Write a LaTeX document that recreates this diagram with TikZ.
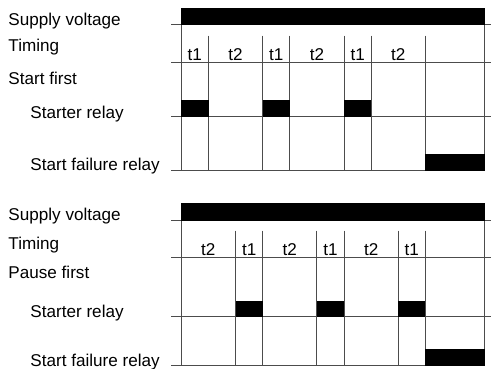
\documentclass[tikz,border=0pt]{standalone}
\usepackage{fontspec}
\setmainfont{Liberation Sans}
\begin{document}
\begin{tikzpicture}[x=1pt,y=-1pt,
  lbl/.style={anchor=base west, inner sep=0pt, font=\fontsize{17.1}{20}\selectfont},
  tlbl/.style={anchor=base, inner sep=0pt, font=\fontsize{17.1}{20}\selectfont},
  gridline/.style={draw=black!70, line width=1pt},
  blk/.style={fill=black}]
\useasboundingbox (0,0) rectangle (491,369);

% ---------- top chart ----------
\node[lbl] (sv1) at (8.3,25.6) {Supply voltage};
\node[lbl] (tm1) at (8.3,52) {Timing};
\node[lbl] (sf1) at (8.3,85) {Start first};
\node[lbl] (sr1) at (30.3,118.3) {Starter relay};
\node[lbl] (fr1) at (30.3,171) {Start failure relay};

\draw[gridline] (171,24.3) -- (491,24.3);
\draw[gridline] (171,62.3) -- (491,62.3);
\draw[gridline] (171,116.7) -- (491,116.7);
\draw[gridline] (171,170.7) -- (484.5,170.7);
\draw[gridline] (181,24.3) -- (181,170.7);
\draw[gridline] (484.5,24.3) -- (484.5,170.7);
\foreach \x in {208.5,262.7,289.9,344.1,371.3,425.3}
  \draw[gridline] (\x,35.7) -- (\x,170.7);

\fill[blk] (181,8.3) rectangle (484.5,25);
\fill[blk] (181,100) rectangle (208.5,116.7);
\fill[blk] (262.7,100) rectangle (289.9,116.7);
\fill[blk] (344.1,100) rectangle (371.3,116.7);
\fill[blk] (425.3,154.3) rectangle (484.5,170.7);

\node[tlbl] (a1) at (194.75,61) {t1};
\node[tlbl] (a2) at (235.6,61) {t2};
\node[tlbl] (a3) at (276.3,61) {t1};
\node[tlbl] (a4) at (317,61) {t2};
\node[tlbl] (a5) at (357.7,61) {t1};
\node[tlbl] (a6) at (398.3,61) {t2};

% ---------- bottom chart ----------
\node[lbl] (sv2) at (8.3,220.8) {Supply voltage};
\node[lbl] (tm2) at (8.3,249) {Timing};
\node[lbl] (pf2) at (8.3,279) {Pause first};
\node[lbl] (sr2) at (30.3,317.3) {Starter relay};
\node[lbl] (fr2) at (30.3,366) {Start failure relay};

\draw[gridline] (171,220.3) -- (491,220.3);
\draw[gridline] (171,257.7) -- (491,257.7);
\draw[gridline] (171,316.7) -- (491,316.7);
\draw[gridline] (171,365.7) -- (484.5,365.7);
\draw[gridline] (181,220.3) -- (181,365.7);
\draw[gridline] (484.5,220.3) -- (484.5,365.7);
\foreach \x in {235.6,262.7,316.9,344.1,398.3,425.3}
  \draw[gridline] (\x,230.7) -- (\x,365.7);

\fill[blk] (181,203.3) rectangle (484.5,221);
\fill[blk] (235.6,300.7) rectangle (262.7,316.7);
\fill[blk] (316.9,300.7) rectangle (344.1,316.7);
\fill[blk] (398.3,300.7) rectangle (425.3,316.7);
\fill[blk] (425.3,349) rectangle (484.5,365.7);

\node[tlbl] (b1) at (208.3,255.7) {t2};
\node[tlbl] (b2) at (249.2,255.7) {t1};
\node[tlbl] (b3) at (289.8,255.7) {t2};
\node[tlbl] (b4) at (330.5,255.7) {t1};
\node[tlbl] (b5) at (371.2,255.7) {t2};
\node[tlbl] (b6) at (411.8,255.7) {t1};
\end{tikzpicture}
\end{document}
